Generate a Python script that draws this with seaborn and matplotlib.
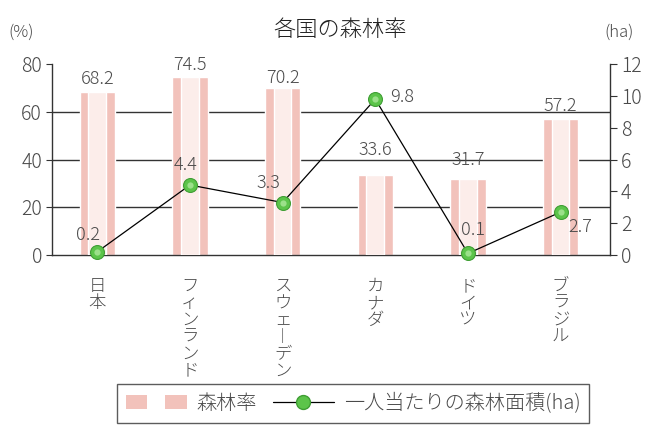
import numpy as np
import pandas as pd
import matplotlib
matplotlib.use("Agg")
import matplotlib.pyplot as plt
import seaborn as sns
from matplotlib.patches import Patch
from matplotlib.lines import Line2D
from matplotlib.legend_handler import HandlerTuple
from matplotlib.ticker import FixedLocator

# ---- data ----
countries = ["日本", "フィンランド", "スウェーデン", "カナダ", "ドイツ", "ブラジル"]
forest_rate = [68.2, 74.5, 70.2, 33.6, 31.7, 57.2]          # %
forest_per_capita = [0.2, 4.4, 3.3, 9.8, 0.1, 2.7]          # ha
left_ticks = [0, 20, 40, 60, 80]
right_ticks = [0, 2, 4, 6, 8, 10, 12]
title = "各国の森林率"
legend_labels = ["森林率", "一人当たりの森林面積(ha)"]

# label offsets (pixels) - presentation only
bar_label_offsets = [13, 12, 10, 25, 19, 13]
line_label_offsets = [(-9, 17), (-4, 20), (-14, 20), (27, 2), (5, 23), (20, -15)]

sns.set_style("white")
plt.rcParams['font.family'] = ['Noto Sans CJK JP', 'DejaVu Sans']
plt.rcParams['font.weight'] = 'light'

df = pd.DataFrame({"country": countries, "rate": forest_rate, "ha": forest_per_capita})
df["pos"] = np.arange(len(df))

fig = plt.figure(figsize=(6.48, 4.25), dpi=100)
ax = fig.add_axes([0.080, 0.40, 0.861, 0.449])

outer = "#f2c2bb"
inner = "#fcedea"
txt = "#4a4a4a"
dark = "#333333"
green_dark = "#3f9e34"
green_mid = "#5cc44a"
green_light = "#9be08a"

sns.barplot(data=df, x="country", y="rate", width=0.38, color=outer, saturation=1, ax=ax, zorder=2)
sns.barplot(data=df, x="country", y="rate", width=0.19, color=inner, saturation=1, ax=ax, zorder=3)

ax.set_ylim(0, 80)
ax.set_yticks(left_ticks)
for v in left_ticks[1:-1]:
    ax.axhline(v, color=dark, lw=1.0, zorder=1)
ax.set_xlabel("")
ax.set_ylabel("")

# vertical (stacked) category labels
vmap = {"ー": "︱"}
ax.set_xticks(range(len(countries)))
ax.set_xticklabels(["\n".join(vmap.get(c, c) for c in name) for name in countries],
                   va="top", linespacing=0.92, fontsize=12.5, color=txt)
ax.xaxis.set_minor_locator(FixedLocator(np.arange(0.5, len(countries) - 1, 1.0)))
ax.tick_params(axis="x", which="major", length=0, pad=16)
ax.tick_params(axis="x", which="minor", direction="in", length=5, color=dark)
ax.tick_params(axis="y", length=4, color=dark, labelsize=14, labelcolor=txt, pad=3)

for i, (r, off) in enumerate(zip(forest_rate, bar_label_offsets)):
    ax.annotate(f"{r}", xy=(i, r), xytext=(0, off), textcoords="offset pixels",
                ha="center", va="center", fontsize=13, color=txt)

for s in ["top", "right"]:
    ax.spines[s].set_visible(False)
for s in ["left", "bottom"]:
    ax.spines[s].set_color(dark)
    ax.spines[s].set_linewidth(1.0)

# secondary axis
ax2 = ax.twinx()
sns.lineplot(data=df, x="pos", y="ha", ax=ax2, color="black", lw=0.9,
             marker="o", markersize=10, markerfacecolor=green_mid,
             markeredgecolor=green_dark, markeredgewidth=0.8, zorder=5, clip_on=False)
sns.lineplot(data=df, x="pos", y="ha", ax=ax2, color=green_light, lw=0, linestyle="none",
             marker="o", markersize=4.5, markeredgewidth=0, zorder=6, clip_on=False)
ax2.set_ylim(0, 12)
ax2.set_yticks(right_ticks)
ax2.set_ylabel("")
ax2.set_xlabel("")
ax2.tick_params(axis="y", length=5, color=dark, labelsize=14, labelcolor=txt, pad=3)
for s in ["top", "left", "bottom"]:
    ax2.spines[s].set_visible(False)
ax2.spines["right"].set_color(dark)
ax2.spines["right"].set_linewidth(1.0)

for i, (h, (dx, dy)) in enumerate(zip(forest_per_capita, line_label_offsets)):
    ax2.annotate(f"{h}", xy=(i, h), xytext=(dx, dy), textcoords="offset pixels",
                 ha="center", va="center", fontsize=13, color=txt, zorder=7)

ax.set_xlim(-0.49, 5.53)
ax2.set_xlim(-0.49, 5.53)

fig.text(0.525, 0.93, title, ha="center", va="center", fontsize=16, color="#222222")
fig.text(0.032, 0.923, "(%)", ha="center", va="center", fontsize=12, color=txt)
fig.text(0.955, 0.923, "(ha)", ha="center", va="center", fontsize=12, color=txt)

handles = [(Patch(facecolor=outer, edgecolor="none"), Patch(facecolor=outer, edgecolor="none")),
           Line2D([], [], color="black", lw=0.9, marker="o", markersize=10,
                  markerfacecolor=green_mid, markeredgecolor=green_dark)]
leg = fig.legend(handles, legend_labels, loc="upper center", bbox_to_anchor=(0.545, 0.097),
                 ncol=2, frameon=True, fancybox=False, edgecolor="#333333",
                 fontsize=14.5, handlelength=3.0, columnspacing=0.8, handletextpad=0.5,
                 borderpad=0.45, borderaxespad=0,
                 handler_map={tuple: HandlerTuple(ndivide=2, pad=0.9)})
for t in leg.get_texts():
    t.set_color(txt)
leg.get_frame().set_linewidth(1.0)

fig.savefig("out.png", dpi=100, facecolor="white")
